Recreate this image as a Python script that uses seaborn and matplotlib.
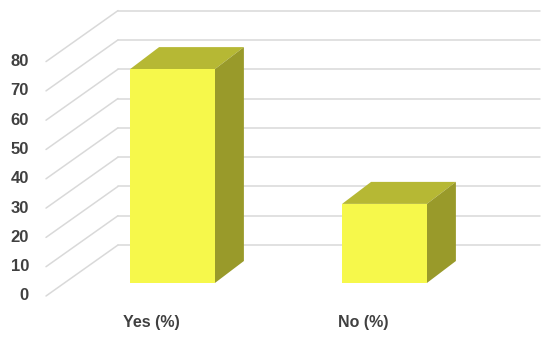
import matplotlib
matplotlib.use('Agg')
import matplotlib.pyplot as plt
import seaborn as sns
from matplotlib.patches import Polygon

# chart data
categories = ['Yes (%)', 'No (%)']
values = [73, 27]
ticks = [0, 10, 20, 30, 40, 50, 60, 70, 80]

front_color = '#F6F84B'
top_color = '#B6B834'
side_color = '#999A2A'
grid_color = '#D9D9D9'
text_color = '#404040'

sns.set_theme(style='white')
plt.rcParams['font.family'] = ['Liberation Sans', 'DejaVu Sans']

fig = plt.figure(figsize=(5.5, 3.37), dpi=100)
ax = fig.add_axes([0, 0, 1, 1])

# pixel -> data mapping (oblique 3d look done by hand)
px_per_cat = 212.0
px_per_val = 2.93
ax.set_xlim(-172.5 / px_per_cat, (550 - 172.5) / px_per_cat)
ax.set_ylim(-(337 - 283) / px_per_val, 283 / px_per_val)

# depth offsets in data units
front_dx, front_dy = -18 / px_per_cat, -13 / px_per_val
back_dx, back_dy = 54 / px_per_cat, 38 / px_per_val
bar_dx, bar_dy = 29 / px_per_cat, 22 / px_per_val
right_end = (540 - 172.5) / px_per_cat
front_left = (46 - 172.5) / px_per_cat

# gridlines: diagonal on the floor side + back wall
for t in ticks:
    ax.plot([front_left, front_left + (back_dx - front_dx)],
            [t + front_dy, t + back_dy], color=grid_color, lw=1.1, zorder=0)
    ax.plot([front_left + (back_dx - front_dx), right_end],
            [t + back_dy, t + back_dy], color=grid_color, lw=1.1, zorder=0)
    ax.text(front_left - 17 / px_per_cat, t + front_dy, str(t), ha='right', va='center',
            fontsize=12, fontweight='bold', color=text_color)

sns.barplot(x=categories, y=values, width=0.4, color=front_color, saturation=1,
            edgecolor='none', ax=ax, zorder=3)

for p in ax.patches:
    x0, y0 = p.get_x(), p.get_y()
    w, h = p.get_width(), p.get_height()
    top = Polygon([(x0, y0 + h), (x0 + w, y0 + h), (x0 + w + bar_dx, y0 + h + bar_dy),
                   (x0 + bar_dx, y0 + h + bar_dy)], closed=True, fc=top_color, ec='none', zorder=2)
    side = Polygon([(x0 + w, y0), (x0 + w + bar_dx, y0 + bar_dy),
                    (x0 + w + bar_dx, y0 + h + bar_dy), (x0 + w, y0 + h)],
                   closed=True, fc=side_color, ec='none', zorder=2)
    ax.add_patch(top)
    ax.add_patch(side)

# category labels on the front edge of the floor
for i, c in enumerate(categories):
    ax.text(i + front_dx - 3 / px_per_cat, -39 / px_per_val, c, ha='center', va='center',
            fontsize=11.5, fontweight='bold', color=text_color)

ax.set_xlim(-172.5 / px_per_cat, (550 - 172.5) / px_per_cat)
ax.set_ylim(-(337 - 283) / px_per_val, 283 / px_per_val)
ax.set_xticks([])
ax.set_yticks([])
ax.set_xlabel('')
ax.set_ylabel('')
for s in ax.spines.values():
    s.set_visible(False)

fig.savefig('out.png', dpi=100)
